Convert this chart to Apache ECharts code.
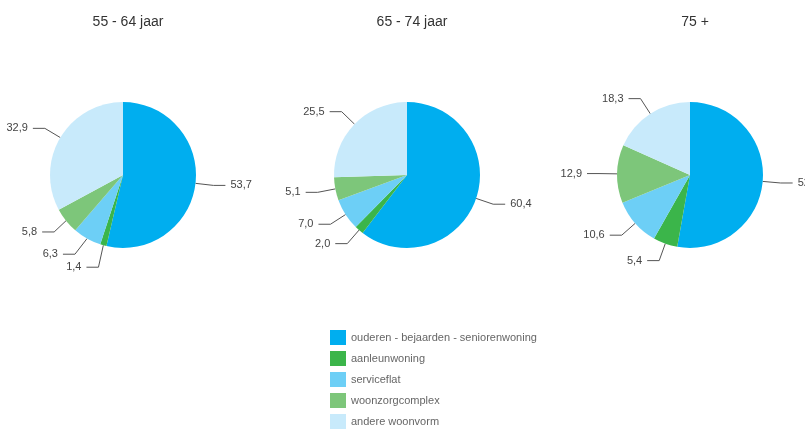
<!DOCTYPE html>
<html>
<head>
<meta charset="utf-8">
<script src="https://cdn.jsdelivr.net/npm/echarts@6/dist/echarts.min.js"></script>
<style>
  html, body { margin: 0; padding: 0; background: #fff; }
  #chart { width: 805px; height: 435px; }
</style>
</head>
<body>
<div id="chart"></div>
<script>
// Woonvorm per leeftijdsgroep (percentages)
const categories = [
  'ouderen - bejaarden - seniorenwoning',
  'aanleunwoning',
  'serviceflat',
  'woonzorgcomplex',
  'andere woonvorm'
];
const groups = ['55 - 64 jaar', '65 - 74 jaar', '75 +'];
const values5564 = [53.7, 1.4, 6.3, 5.8, 32.9];
const values6574 = [60.4, 2.0, 7.0, 5.1, 25.5];
const values75 = [52.8, 5.4, 10.6, 12.9, 18.3];
const colors = ['#00aeef', '#3bb54a', '#6dcff6', '#7dc67a', '#c8eafb'];

const groupValues = [values5564, values6574, values75];
const centers = [[123, 175], [407, 175], [690, 175]];
const font = '"Liberation Sans", Arial, sans-serif';

const chart = echarts.init(document.getElementById('chart'));

const titles = groups.map((g, i) => ({
  text: g,
  left: centers[i][0],
  top: 10,
  textAlign: 'center',
  textStyle: { fontFamily: font, fontSize: 14, fontWeight: 'normal', color: '#333' }
}));

const series = groupValues.map((vals, i) => ({
  type: 'pie',
  name: groups[i],
  center: centers[i],
  radius: 73,
  startAngle: 90,
  clockwise: true,
  avoidLabelOverlap: true,
  animation: false,
  itemStyle: { borderWidth: 0 },
  emphasis: { disabled: true },
  label: {
    show: true,
    formatter: p => p.value.toFixed(1).replace('.', ','),
    fontFamily: font,
    fontSize: 11,
    color: '#444',
    width: 24,
    overflow: 'none'
  },
  labelLine: {
    show: true,
    length: 18,
    length2: 12,
    lineStyle: { color: '#555', width: 1 }
  },
  data: categories.map((c, k) => ({ name: c, value: vals[k] }))
}));

chart.setOption({
  backgroundColor: '#fff',
  color: colors,
  title: titles,
  legend: {
    orient: 'vertical',
    left: 330,
    top: 330,
    height: 110,
    padding: 0,
    icon: 'rect',
    itemWidth: 16,
    itemHeight: 15,
    itemGap: 6,
    selectedMode: false,
    data: categories,
    textStyle: { fontFamily: font, fontSize: 11, color: '#666' }
  },
  series: series
});
</script>
</body>
</html>
